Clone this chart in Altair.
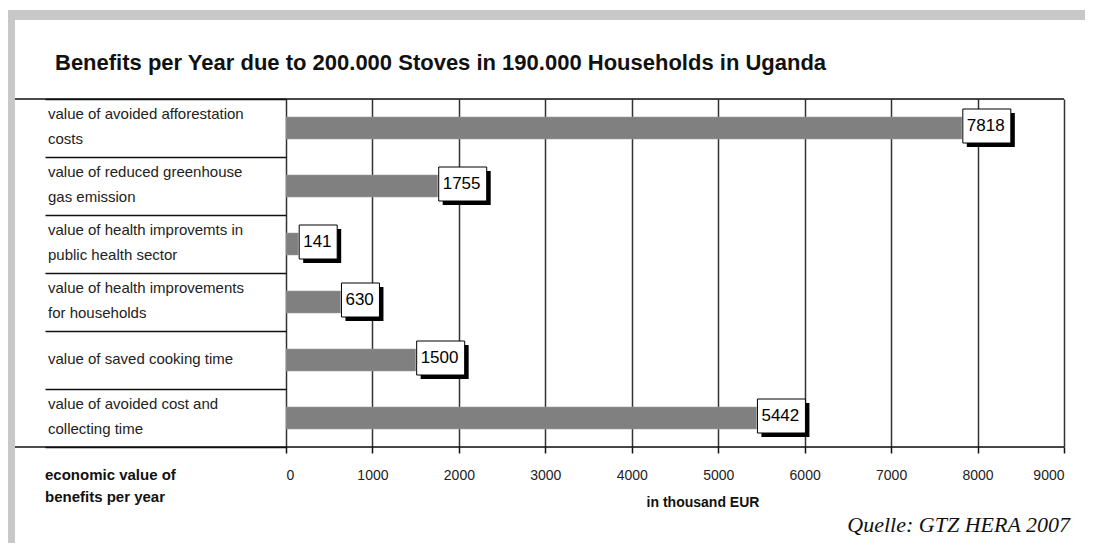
import altair as alt
import pandas as pd

categories = [
    "value of avoided afforestation\ncosts",
    "value of reduced greenhouse\ngas emission",
    "value of health improvemts in\npublic health sector",
    "value of health improvements\nfor households",
    "value of saved cooking time",
    "value of avoided cost and\ncollecting time",
]
values = [7818, 1755, 141, 630, 1500, 5442]
x_ticks = [0, 1000, 2000, 3000, 4000, 5000, 6000, 7000, 8000, 9000]

title_text = "Benefits per Year due to 200.000 Stoves in 190.000 Households in Uganda"
left_axis_title = "economic value of\nbenefits per year"
x_title = "in thousand EUR"
source_text = "Quelle: GTZ HERA 2007"

df = pd.DataFrame({"cat": categories, "value": values})
one = pd.DataFrame({"a": [0]})

FONT = "Liberation Sans"
W, H = 778, 348

xscale = alt.Scale(domain=[0, 9000], nice=False, zero=True)
yscale = alt.Scale(domain=categories, paddingInner=0, paddingOuter=0)

base = alt.Chart(df)

bars = base.mark_bar(size=22, color="#808080", stroke="#9a9a9a", strokeWidth=0.5).encode(
    x=alt.X(
        "value:Q",
        scale=xscale,
        axis=alt.Axis(
            values=x_ticks,
            format="d",
            grid=True,
            gridColor="#333333",
            gridWidth=1.5,
            ticks=True,
            tickSize=6,
            tickColor="#111111",
            tickWidth=1.5,
            domain=False,
            labelFont=FONT,
            labelFontSize=14,
            labelColor="#222222",
            labelPadding=15,
            title=None,
        ),
    ),
    y=alt.Y(
        "cat:N",
        sort=categories,
        scale=yscale,
        axis=alt.Axis(
            labels=False,
            domain=False,
            ticks=True,
            tickBand="extent",
            tickSize=241,
            tickColor="#111111",
            tickWidth=1.5,
            title=None,
        ),
    ),
)

def box_layers(cond, width):
    sub = base.transform_filter(cond)
    shadow = sub.mark_bar(
        size=34, color="#000000", xOffset=5, x2Offset=5 + width, yOffset=2, y2Offset=2
    ).encode(
        x=alt.X("value:Q", scale=xscale),
        x2="value",
        y=alt.Y("cat:N", sort=categories, scale=yscale),
    )
    box = sub.mark_bar(
        size=34, color="#ffffff", stroke="#000000", strokeWidth=1,
        xOffset=1, x2Offset=1 + width, yOffset=-2, y2Offset=-2
    ).encode(
        x=alt.X("value:Q", scale=xscale),
        x2="value",
        y=alt.Y("cat:N", sort=categories, scale=yscale),
    )
    return shadow + box

boxes4 = box_layers("datum.value >= 1000", 48)
boxes3 = box_layers("datum.value < 1000", 38)

nums = base.mark_text(
    align="left", baseline="middle", dx=5, dy=-2, font=FONT, fontSize=17, color="#000000"
).encode(
    x=alt.X("value:Q", scale=xscale),
    y=alt.Y("cat:N", sort=categories, scale=yscale),
    text=alt.Text("value:Q", format="d"),
)

def label_layer(cond, dy):
    return base.transform_filter(cond).mark_text(
        align="left", baseline="middle", lineBreak="\n", lineHeight=25,
        font=FONT, fontSize=15, color="#222222", dy=dy
    ).encode(
        x=alt.value(-238),
        y=alt.Y("cat:N", sort=categories, scale=yscale),
        text="cat:N",
    )

labels_two = label_layer("indexof(datum.cat, '\\n') >= 0", -14)
labels_one = label_layer("indexof(datum.cat, '\\n') < 0", -1)

deco = alt.Chart(one)
grey_left = deco.mark_rect(color="#c8c8c8").encode(
    x=alt.value(-282), x2=alt.value(-271), y=alt.value(-89), y2=alt.value(444)
)
grey_top = deco.mark_rect(color="#c8c8c8").encode(
    x=alt.value(-282), x2=alt.value(800), y=alt.value(-89), y2=alt.value(-79)
)
top_line = deco.mark_rule(color="#111111", strokeWidth=1.5).encode(
    x=alt.value(-271), x2=alt.value(W), y=alt.value(0)
)
bottom_line = deco.mark_rule(color="#111111", strokeWidth=1.5).encode(
    x=alt.value(-271), x2=alt.value(W), y=alt.value(H)
)
title = deco.mark_text(
    align="left", baseline="middle", font=FONT, fontSize=22, fontWeight="bold", color="#111111"
).encode(x=alt.value(-231), y=alt.value(-36), text=alt.value(title_text))
left_title = deco.mark_text(
    align="left", baseline="middle", lineBreak="\n", lineHeight=22,
    font=FONT, fontSize=15, fontWeight="bold", color="#111111"
).encode(x=alt.value(-241), y=alt.value(376), text=alt.value(left_axis_title))
xt = deco.mark_text(
    align="center", baseline="middle", font=FONT, fontSize=14, fontWeight="bold", color="#111111"
).encode(x=alt.value(417), y=alt.value(404), text=alt.value(x_title))
src = deco.mark_text(
    align="right", baseline="middle", font="Liberation Serif", fontSize=22,
    fontStyle="italic", color="#111111"
).encode(x=alt.value(784), y=alt.value(426), text=alt.value(source_text))

chart = alt.layer(
    grey_left, grey_top, bars, boxes4, boxes3, nums, labels_two, labels_one,
    top_line, bottom_line, title, left_title, xt, src
).properties(
    width=W, height=H,
    autosize=alt.AutoSizeParams(type="none"),
    padding={"left": 278, "top": 91, "right": 21, "bottom": 96},
).configure_view(
    stroke="#111111", strokeWidth=1.5
).configure(background="#ffffff")

chart.save("out.html", embed_options={"renderer": "svg", "actions": False})
